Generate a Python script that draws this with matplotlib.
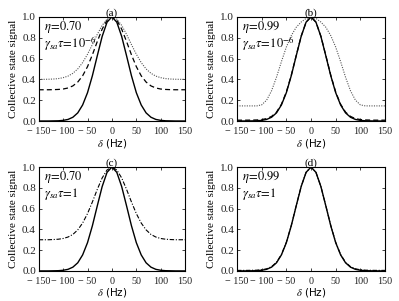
# four panels: collective state signal vs detuning
import numpy as np
import matplotlib
matplotlib.use("Agg")
import matplotlib.pyplot as plt

plt.rcParams['font.family'] = ['Liberation Serif', 'DejaVu Serif']
plt.rcParams['mathtext.fontset'] = 'stix'

# detuning grid (Hz)
delta = [-150, -140, -130, -120, -110, -100, -90, -80, -70, -60, -50, -40, -30, -20, -10, 0,
         10, 20, 30, 40, 50, 60, 70, 80, 90, 100, 110, 120, 130, 140, 150]

# ideal signal (solid, every panel)
ideal = [0, 0, 0, 0.001, 0.002, 0.006, 0.015, 0.036, 0.078, 0.154, 0.272, 0.435, 0.626, 0.812, 0.949, 1.0,
         0.949, 0.812, 0.626, 0.435, 0.272, 0.154, 0.078, 0.036, 0.015, 0.006, 0.002, 0.001, 0, 0, 0]

# (a) eta=0.70, gamma tau=1e-6
a_dashed = [0.300, 0.300, 0.300, 0.301, 0.303, 0.307, 0.317, 0.337, 0.374, 0.434, 0.522, 0.636, 0.763, 0.882, 0.969, 1.0,
            0.969, 0.882, 0.763, 0.636, 0.522, 0.434, 0.374, 0.337, 0.317, 0.307, 0.303, 0.301, 0.300, 0.300, 0.300]
a_dotted = [0.400, 0.400, 0.401, 0.403, 0.407, 0.416, 0.431, 0.458, 0.500, 0.561, 0.641, 0.734, 0.832, 0.918, 0.978, 1.0,
            0.978, 0.918, 0.832, 0.734, 0.641, 0.561, 0.500, 0.458, 0.431, 0.416, 0.407, 0.403, 0.401, 0.400, 0.400]

# (b) eta=0.99, gamma tau=1e-6
b_dashed = [0.008, 0.008, 0.008, 0.009, 0.010, 0.014, 0.023, 0.044, 0.085, 0.161, 0.278, 0.440, 0.629, 0.814, 0.949, 1.0,
            0.949, 0.814, 0.629, 0.440, 0.278, 0.161, 0.085, 0.044, 0.023, 0.014, 0.010, 0.009, 0.008, 0.008, 0.008]
b_dotted = [0.145, 0.145, 0.145, 0.145, 0.145, 0.155, 0.20, 0.29, 0.42, 0.57, 0.71, 0.82, 0.90, 0.95, 0.985, 1.0,
            0.985, 0.95, 0.90, 0.82, 0.71, 0.57, 0.42, 0.29, 0.20, 0.155, 0.145, 0.145, 0.145, 0.145, 0.145]

# (c) eta=0.70, gamma tau=1
c_dashdot = [0.300, 0.300, 0.300, 0.302, 0.305, 0.312, 0.326, 0.351, 0.395, 0.461, 0.552, 0.664, 0.785, 0.895, 0.972, 1.0,
             0.972, 0.895, 0.785, 0.664, 0.552, 0.461, 0.395, 0.351, 0.326, 0.312, 0.305, 0.302, 0.300, 0.300, 0.300]

# (d) eta=0.99, gamma tau=1
d_dashdot = [0.005, 0.005, 0.005, 0.006, 0.007, 0.011, 0.020, 0.041, 0.083, 0.158, 0.276, 0.438, 0.628, 0.813, 0.949, 1.0,
             0.949, 0.813, 0.628, 0.438, 0.276, 0.158, 0.083, 0.041, 0.020, 0.011, 0.007, 0.006, 0.005, 0.005, 0.005]

titles = ['(a)', '(b)', '(c)', '(d)']
etas = ['0.70', '0.99', '0.70', '0.99']
gtaus = [r'10^{-6}', r'10^{-6}', '1', '1']

xticks = [-150, -100, -50, 0, 50, 100, 150]
xticklabels = ['\u2212 150', '\u2212 100', '\u2212 50', '0', '50', '100', '150']
yticks = [0.0, 0.2, 0.4, 0.6, 0.8, 1.0]

fig = plt.figure(figsize=(3.99, 3.01), dpi=100)
boxes = [[0.097, 0.598, 0.367, 0.346],
         [0.594, 0.598, 0.371, 0.346],
         [0.097, 0.100, 0.367, 0.345],
         [0.594, 0.100, 0.371, 0.345]]
axes = [fig.add_axes(b) for b in boxes]

k = dict(color='black', lw=1.0)
axes[0].plot(delta, ideal, **k)
axes[0].plot(delta, a_dashed, color='black', lw=0.9, dashes=(4, 2.5))
axes[0].plot(delta, a_dotted, color='#555555', lw=0.8, dashes=(1, 1.2))

axes[1].plot(delta, ideal, **k)
axes[1].plot(delta, b_dashed, color='black', lw=0.9, dashes=(4, 2.5))
axes[1].plot(delta, b_dotted, color='#555555', lw=0.8, dashes=(1, 1.2))

axes[2].plot(delta, ideal, **k)
axes[2].plot(delta, c_dashdot, color='black', lw=0.8, dashes=(4, 1.5, 1, 1.5))

axes[3].plot(delta, ideal, **k)
axes[3].plot(delta, d_dashdot, color='black', lw=0.8, dashes=(4, 1.5, 1, 1.5))

for i, ax in enumerate(axes):
    ax.set_xlim(-150, 150)
    ax.set_ylim(0, 1)
    ax.set_xticks(xticks)
    ax.set_xticklabels(xticklabels)
    ax.set_yticks(yticks)
    ax.set_yticklabels(['%.1f' % v for v in yticks])
    ax.tick_params(direction='in', length=2.5, width=0.6, pad=1.5,
                   top=True, right=True, colors='#222222')
    ax.tick_params(axis='y', labelsize=8, pad=2)
    ax.tick_params(axis='x', labelsize=7.3, pad=4.2)
    for s in ax.spines.values():
        s.set_linewidth(0.8)
    ax.set_title(titles[i], fontsize=8, pad=1.0)
    ax.set_ylabel('Collective state signal', fontsize=8, labelpad=3)
    ax.set_xlabel(r'$\delta$ (Hz)', fontsize=7.5, labelpad=0.5, family='DejaVu Sans')
    ax.text(0.035, 0.90, r'$\eta\!=\!%s$' % etas[i], transform=ax.transAxes,
            fontsize=9, va='center', ha='left')
    ax.text(0.035, 0.74, r'$\gamma_{sa}\tau\!=\!%s$' % gtaus[i], transform=ax.transAxes,
            fontsize=9, va='center', ha='left')

fig.savefig('out.png', dpi=100)
